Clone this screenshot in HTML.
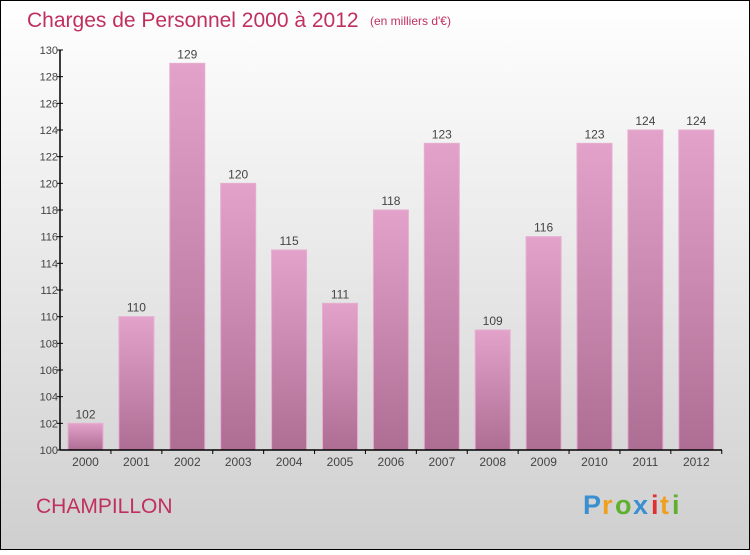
<!DOCTYPE html>
<html><head><meta charset="utf-8"><style>
body{margin:0}
svg text{font-family:"Liberation Sans",sans-serif}
</style></head><body>
<svg id="c" width="750" height="550" xmlns="http://www.w3.org/2000/svg">
<defs>
<linearGradient id="bg" x1="0" y1="0" x2="0" y2="1"><stop offset="0" stop-color="#ffffff"/><stop offset="1" stop-color="#cfcfcf"/></linearGradient>
<linearGradient id="bar" x1="0" y1="0" x2="0" y2="1"><stop offset="0" stop-color="#e2a2ca"/><stop offset="1" stop-color="#ae6e94"/></linearGradient>
</defs>
<rect x="0.5" y="0.5" width="749" height="549" fill="url(#bg)" stroke="#000"/>
<text x="27" y="27" font-size="21" fill="#c0305f">Charges de Personnel 2000 à 2012</text>
<text x="370" y="25" font-size="12" fill="#c0305f">(en milliers d'€)</text>
<text x="36" y="513" font-size="21" fill="#c0305f">CHAMPILLON</text>
<g font-size="27" font-weight="bold">
<text x="583" y="514" fill="#3a8fd0">P</text><text x="602" y="514" fill="#f0a020">r</text><text x="615" y="514" fill="#60b030">o</text><text x="633" y="514" fill="#3a8fd0">x</text><text x="651" y="514" fill="#e03030">i</text><text x="660" y="514" fill="#f0a020">t</text><text x="672" y="514" fill="#60b030">i</text>
</g>
<g id="plot"></g>
</svg>
<script>
const years=["2000","2001","2002","2003","2004","2005","2006","2007","2008","2009","2010","2011","2012"];
const values=[102,110,129,120,115,111,118,123,109,116,123,124,124];
const yTicks=[100,102,104,106,108,110,112,114,116,118,120,122,124,126,128,130];
const NS="http://www.w3.org/2000/svg";
const g=document.getElementById('plot');
const x0=60,x1=722,yB=450,yT=50,vmin=100,vmax=130;
const step=50.9;
const y=v=>yB-(v-vmin)/(vmax-vmin)*(yB-yT);
const xc=i=>85.5+i*step;
function mk(t,a,p){const e=document.createElementNS(NS,t);for(const k in a)e.setAttribute(k,a[k]);(p||g).appendChild(e);return e;}
years.forEach((yr,i)=>{
 const r=mk('rect',{x:xc(i)-17.5,y:y(values[i]),width:35,height:yB-y(values[i]),fill:'url(#bar)',stroke:'#e6aed0','stroke-width':1});
 
 
 const t=mk('text',{x:xc(i),y:y(values[i])-5,'text-anchor':'middle','font-size':12,fill:'#444'});
 t.textContent=values[i];
 
 
 const xl=mk('text',{x:xc(i),y:466,'text-anchor':'middle','font-size':12,fill:'#444'});
 xl.textContent=yr;
 
 
 const tk=mk('line',{x1:xc(i)+step/2,x2:xc(i)+step/2,y1:yB,y2:yB+4,stroke:'#000'});
 
 
});
yTicks.forEach(v=>{
 const l=mk('line',{x1:x0-3,x2:x0+3,y1:y(v),y2:y(v),stroke:'#000'});
 
 
 const t=mk('text',{x:x0-2,y:y(v)+4,'text-anchor':'end','font-size':11,fill:'#444'});
 t.textContent=v;
 
 
});
const ya=mk('line',{x1:x0,x2:x0,y1:yT,y2:yB,stroke:'#000','stroke-width':1.5});


const xa=mk('line',{x1:x0,x2:x1,y1:yB,y2:yB,stroke:'#000','stroke-width':1.5});


</script>
</body></html>
